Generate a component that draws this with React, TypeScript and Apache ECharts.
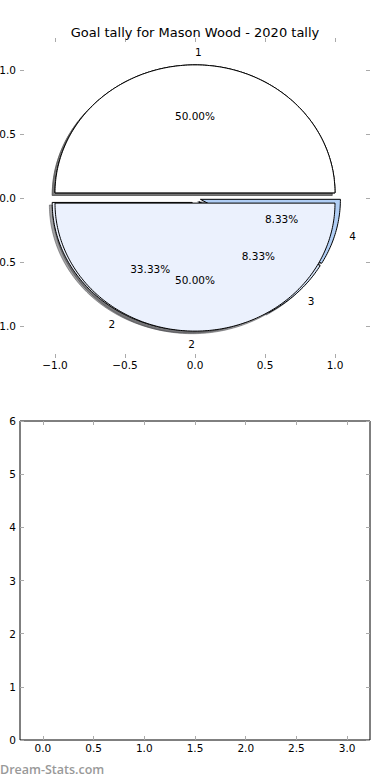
import { useEffect, useRef } from 'react';
import * as echarts from 'echarts';

// ---- data ----
const titleText = 'Goal tally for Mason Wood - 2020 tally';
const watermarkText = 'Dream-Stats.com';
const pieALabels = ['1', '2', '3', '4'];
const pieAValues = [6, 4, 1, 1];
const pieBLabels = ['1', '2'];
const pieBValues = [1, 1];
const pieTicks = [-1, -0.5, 0, 0.5, 1];
const lowerXTicks = [0, 0.5, 1, 1.5, 2, 2.5, 3];
const lowerYTicks = [0, 1, 2, 3, 4, 5, 6];

// ---- styles ----
const FONT = '"DejaVu Sans", sans-serif';
const EXPLODE = 0.04;
const SHADOW_OFF = -0.02;
const colorsA = ['#ffffff', '#ebf1fd', '#d4e3f9', '#b0cef5'];
const colorsB = ['#ffffff', '#ebf1fd'];

type Wedge = { label: string; pct: number; a0: number; a1: number; color: string };

function buildWedges(labels: string[], values: number[], colors: string[]): Wedge[] {
  const total = values.reduce((s, v) => s + v, 0);
  let acc = 0;
  return values.map((v, i) => {
    const a0 = (acc / total) * 360;
    acc += v;
    const a1 = (acc / total) * 360;
    return { label: labels[i], pct: (v / total) * 100, a0, a1, color: colors[i] };
  });
}

const wedgesA = buildWedges(pieALabels, pieAValues, colorsA);
const wedgesB = buildWedges(pieBLabels, pieBValues, colorsB);
const allWedges = [...wedgesA, ...wedgesB];

// a wedge of the second pie that lies exactly on one of the first pie prints its texts on the same spot;
// draw such coinciding texts once
const sameAsEarlier = allWedges.map((w, i) =>
  allWedges.slice(0, i).some((o) => o.a0 === w.a0 && o.a1 === w.a1 && o.label === w.label && o.pct === w.pct)
);

function center(w: Wedge) {
  const mid = (((w.a0 + w.a1) / 2) * Math.PI) / 180;
  return [EXPLODE * Math.cos(mid), EXPLODE * Math.sin(mid)];
}

function wedgePts(api: any, w: Wedge, dx: number, dy: number) {
  const [cx0, cy0] = center(w);
  const cx = cx0 + dx;
  const cy = cy0 + dy;
  const pts: number[][] = [api.coord([cx, cy])];
  const steps = Math.max(2, Math.ceil(w.a1 - w.a0));
  for (let k = 0; k <= steps; k++) {
    const a = ((w.a0 + ((w.a1 - w.a0) * k) / steps) * Math.PI) / 180;
    pts.push(api.coord([cx + Math.cos(a), cy + Math.sin(a)]));
  }
  return pts;
}

function shadowColor(hex: string) {
  const r = parseInt(hex.slice(1, 3), 16) * 0.3;
  const g = parseInt(hex.slice(3, 5), 16) * 0.3;
  const b = parseInt(hex.slice(5, 7), 16) * 0.3;
  return `rgba(${Math.round(r)},${Math.round(g)},${Math.round(b)},0.5)`;
}

const fmt1 = (v: number) => (v < 0 ? '\u2212' : '') + Math.abs(v).toFixed(1);
const noLine = { show: false, onZero: false };
const tick = (vals?: number[]) => ({
  show: true,
  inside: true,
  length: 4,
  lineStyle: { color: '#aaaaaa', width: 1 },
  ...(vals ? { customValues: vals } : {}),
});
const lbl = (vals: number[] | undefined, margin: number, formatter: any) => ({
  show: true,
  margin,
  fontSize: 10.5,
  color: '#000',
  fontFamily: FONT,
  formatter,
  hideOverlap: false,
  ...(vals ? { customValues: vals } : {}),
});

export default function App() {
  const ref = useRef<HTMLDivElement>(null);
  useEffect(() => {
    if (!ref.current) return;
    const chart = echarts.init(ref.current, undefined, { renderer: 'svg' });

    const wedgeSeries = (wedges: Wedge[], z: number) => ({
      type: 'custom',
      xAxisIndex: 0,
      yAxisIndex: 0,
      z,
      clip: false,
      silent: true,
      data: wedges.map((w) => [w.a0, w.a1]),
      renderItem: (params: any, api: any) => {
        const w = wedges[params.dataIndex];
        return {
          type: 'polygon',
          shape: { points: wedgePts(api, w, 0, 0) },
          style: { fill: w.color, stroke: '#000', lineWidth: 1 },
        };
      },
    });

    const option: any = {
      animation: false,
      backgroundColor: '#fff',
      title: {
        text: titleText,
        left: 'center',
        top: 21,
        textStyle: { fontSize: 13, fontWeight: 'normal', color: '#000', fontFamily: FONT },
      },
      grid: [
        { left: 20, top: 38, width: 350, height: 320, containLabel: false, outerBoundsMode: 'none' },
        {
          left: 20, top: 421, width: 350, height: 319, containLabel: false, outerBoundsMode: 'none',
          show: true, borderColor: '#000', borderWidth: 1, backgroundColor: 'transparent',
        },
      ],
      xAxis: [
        {
          gridIndex: 0, type: 'value', min: -1.25, max: 1.25, position: 'bottom',
          axisLine: noLine, axisTick: tick(pieTicks), axisLabel: lbl(pieTicks, 1, fmt1), splitLine: { show: false },
        },
        {
          gridIndex: 0, type: 'value', min: -1.25, max: 1.25, position: 'top',
          axisLine: noLine, axisTick: tick(pieTicks), axisLabel: { show: false }, splitLine: { show: false },
        },
        {
          gridIndex: 1, type: 'value', min: -0.225, max: 3.225, position: 'bottom',
          axisLine: noLine, axisTick: tick(lowerXTicks), axisLabel: lbl(lowerXTicks, 2, fmt1), splitLine: { show: false },
        },
        {
          gridIndex: 1, type: 'value', min: -0.225, max: 3.225, position: 'top',
          axisLine: noLine, axisTick: tick(lowerXTicks), axisLabel: { show: false }, splitLine: { show: false },
        },
      ],
      yAxis: [
        {
          gridIndex: 0, type: 'value', min: -1.25, max: 1.25, position: 'left',
          axisLine: noLine, axisTick: tick(pieTicks), axisLabel: lbl(pieTicks, 4, fmt1), splitLine: { show: false },
        },
        {
          gridIndex: 0, type: 'value', min: -1.25, max: 1.25, position: 'right',
          axisLine: noLine, axisTick: tick(pieTicks), axisLabel: { show: false }, splitLine: { show: false },
        },
        {
          gridIndex: 1, type: 'value', min: 0, max: 6, position: 'left',
          axisLine: noLine, axisTick: tick(lowerYTicks), axisLabel: lbl(lowerYTicks, 4, (v: number) => String(v)), splitLine: { show: false },
        },
        {
          gridIndex: 1, type: 'value', min: 0, max: 6, position: 'right',
          axisLine: noLine, axisTick: tick(lowerYTicks), axisLabel: { show: false }, splitLine: { show: false },
        },
      ],
      graphic: [
        {
          type: 'text',
          left: 0,
          top: 763,
          style: { text: watermarkText, fill: '#999999', font: '600 12.5px "Open Sans", sans-serif' },
        },
      ],
      series: [
        {
          type: 'custom',
          xAxisIndex: 0,
          yAxisIndex: 0,
          z: 1,
          clip: false,
          silent: true,
          data: allWedges.map((w) => [w.a0, w.a1]),
          renderItem: (params: any, api: any) => {
            const w = allWedges[params.dataIndex];
            const c = shadowColor(w.color);
            return {
              type: 'polygon',
              shape: { points: wedgePts(api, w, SHADOW_OFF, SHADOW_OFF) },
              style: { fill: c, stroke: c, lineWidth: 1 },
            };
          },
        },
        wedgeSeries(wedgesA, 2),
        wedgeSeries(wedgesB, 3),
        {
          type: 'custom',
          xAxisIndex: 0,
          yAxisIndex: 0,
          z: 5,
          clip: false,
          silent: true,
          data: allWedges.map((w) => [w.a0, w.a1]),
          renderItem: (params: any, api: any) => {
            const w = allWedges[params.dataIndex];
            if (sameAsEarlier[params.dataIndex]) return { type: 'group', children: [] };
            const [cx, cy] = center(w);
            const mid = (((w.a0 + w.a1) / 2) * Math.PI) / 180;
            const lp = api.coord([cx + 1.1 * Math.cos(mid), cy + 1.1 * Math.sin(mid)]);
            const pp = api.coord([cx + 0.6 * Math.cos(mid), cy + 0.6 * Math.sin(mid)]);
            const font = `10.5px ${FONT}`;
            return {
              type: 'group',
              children: [
                {
                  type: 'text',
                  x: lp[0],
                  y: lp[1],
                  style: { text: w.label, fill: '#000', font, align: Math.cos(mid) > 0 ? 'left' : 'right', verticalAlign: 'middle' },
                },
                {
                  type: 'text',
                  x: pp[0],
                  y: pp[1],
                  style: { text: w.pct.toFixed(2) + '%', fill: '#000', font, align: 'center', verticalAlign: 'middle' },
                },
              ],
            };
          },
        },
      ],
    };
    chart.setOption(option);
    return () => chart.dispose();
  }, []);
  return <div ref={ref} style={{ position: 'fixed', left: 0, top: 0, width: 390, height: 780 }} />;
}
